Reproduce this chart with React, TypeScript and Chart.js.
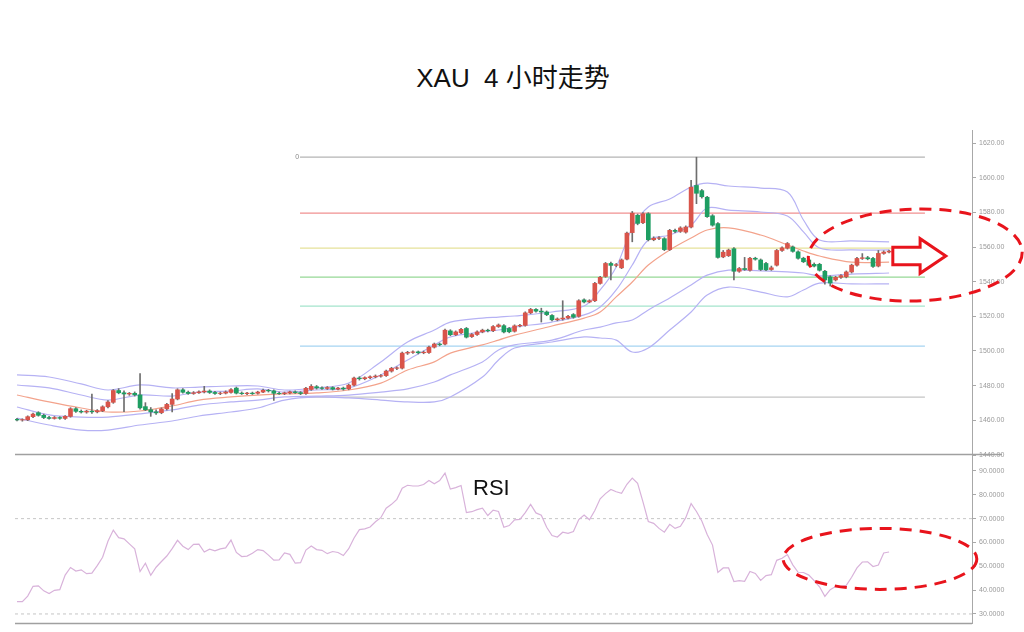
import React, { useEffect, useRef } from 'react';
import { Chart, registerables } from 'chart.js';

Chart.register(...registerables);

// ---------- DATA ----------
const opens = [
  1460.6, 1460.2, 1460.3, 1462.1, 1464.4, 1462.9, 1461.6, 1461.1, 1461.6, 1461.1,
  1462.3, 1466.7, 1465.2, 1464.8, 1465.3, 1464.9, 1465.5, 1467.8, 1470.4, 1477.2,
  1475.9, 1475.2, 1475.6, 1474.7, 1467.9, 1466.1, 1464.9, 1464.4, 1466.6, 1469.2,
  1472.3, 1477.6, 1476.2, 1475.5, 1475.9, 1476.4, 1476.9, 1476.1, 1475.5, 1475.7,
  1476.1, 1478.6, 1475.7, 1475.4, 1475.7, 1475.6, 1476.3, 1477.3, 1477.0, 1475.6,
  1475.4, 1475.8, 1476.4, 1476.0, 1475.5, 1477.8, 1479.4, 1478.7, 1478.4, 1478.9,
  1478.0, 1478.6, 1478.1, 1480.3, 1484.4, 1484.0, 1484.6, 1485.1, 1485.5, 1485.8,
  1488.4, 1490.0, 1490.1, 1498.8, 1499.2, 1499.5, 1499.0, 1499.1, 1502.2, 1504.0,
  1504.0, 1511.6, 1509.4, 1510.5, 1513.0, 1508.3, 1509.5, 1511.0, 1512.0, 1511.7,
  1514.1, 1514.6, 1513.0, 1511.4, 1514.5, 1514.8, 1522.0, 1524.0, 1523.0, 1522.5,
  1520.5, 1518.0, 1518.5, 1519.0, 1521.0, 1520.0, 1529.5, 1528.3, 1529.0, 1539.0,
  1543.0, 1550.5, 1549.4, 1548.0, 1553.0, 1568.3, 1578.3, 1574.0, 1579.2, 1564.2,
  1565.0, 1564.8, 1558.5, 1569.6, 1569.0, 1568.6, 1571.5, 1595.5, 1592.5, 1588.7,
  1578.0, 1573.5, 1554.3, 1555.0, 1559.0, 1546.0, 1547.6, 1546.6, 1553.5, 1552.5,
  1550.5, 1547.0, 1549.5, 1558.0, 1559.3, 1560.0, 1557.2, 1553.5, 1552.5, 1550.0,
  1550.0, 1546.0, 1542.8, 1541.0, 1542.5, 1542.8, 1545.6, 1549.5, 1553.4, 1553.8,
  1553.4, 1549.0, 1556.3, 1557.1,
];
const highs = [
  1461.2, 1460.9, 1462.6, 1464.2, 1465.0, 1463.6, 1462.3, 1462.2, 1462.1, 1462.7,
  1467.3, 1467.4, 1466.0, 1465.8, 1475.2, 1466.2, 1468.4, 1471.4, 1477.8, 1478.3,
  1477.0, 1476.1, 1476.4, 1487.0, 1470.2, 1467.4, 1466.0, 1467.2, 1469.8, 1475.5,
  1478.2, 1478.3, 1476.9, 1476.6, 1477.0, 1479.6, 1477.6, 1476.8, 1476.3, 1477.0,
  1478.3, 1479.2, 1476.4, 1476.2, 1476.3, 1476.8, 1478.0, 1477.9, 1477.6, 1476.3,
  1476.3, 1476.9, 1477.0, 1476.6, 1479.0, 1480.6, 1480.1, 1479.4, 1479.5, 1479.4,
  1479.1, 1479.2, 1480.9, 1485.0, 1485.2, 1485.1, 1485.7, 1486.2, 1486.4, 1489.0,
  1490.6, 1490.9, 1499.4, 1499.8, 1500.1, 1500.0, 1500.0, 1502.8, 1504.6, 1504.6,
  1512.6, 1512.3, 1511.6, 1513.1, 1513.6, 1510.1, 1511.6, 1512.6, 1512.6, 1514.6,
  1515.6, 1515.2, 1513.6, 1515.1, 1515.4, 1522.6, 1524.6, 1524.5, 1524.7, 1523.1,
  1521.0, 1519.1, 1529.0, 1520.6, 1521.6, 1529.6, 1530.1, 1529.6, 1539.6, 1543.1,
  1551.1, 1551.3, 1550.5, 1553.1, 1568.6, 1580.5, 1579.0, 1579.8, 1579.8, 1565.9,
  1566.0, 1565.4, 1570.2, 1570.4, 1571.7, 1572.2, 1598.5, 1611.8, 1593.2, 1589.3,
  1578.7, 1574.1, 1558.0, 1558.8, 1559.6, 1548.2, 1554.0, 1554.0, 1554.1, 1553.1,
  1551.1, 1549.0, 1558.6, 1560.1, 1562.6, 1560.6, 1557.8, 1554.1, 1553.2, 1550.8,
  1550.6, 1546.6, 1543.4, 1543.1, 1544.1, 1546.2, 1550.1, 1554.0, 1556.2, 1554.6,
  1554.0, 1558.0, 1557.8, 1558.2,
];
const lows = [
  1459.6, 1459.5, 1459.8, 1461.6, 1462.4, 1461.0, 1460.6, 1460.7, 1460.6, 1460.5,
  1461.8, 1464.6, 1464.2, 1464.1, 1464.0, 1464.3, 1465.0, 1467.1, 1469.8, 1475.3,
  1465.0, 1474.4, 1474.0, 1466.5, 1465.6, 1462.3, 1463.4, 1463.8, 1465.9, 1464.8,
  1471.8, 1475.6, 1475.0, 1475.0, 1475.5, 1475.8, 1475.5, 1474.9, 1474.8, 1475.2,
  1475.7, 1475.2, 1474.9, 1474.8, 1474.9, 1475.1, 1475.9, 1476.3, 1471.5, 1474.9,
  1474.8, 1475.3, 1475.5, 1474.8, 1475.0, 1477.3, 1478.0, 1477.9, 1477.8, 1477.5,
  1477.6, 1477.4, 1477.6, 1479.8, 1483.2, 1483.4, 1484.0, 1484.5, 1484.9, 1485.3,
  1487.8, 1489.2, 1489.6, 1498.0, 1498.6, 1498.3, 1498.4, 1498.6, 1501.7, 1503.0,
  1503.5, 1508.8, 1508.9, 1510.0, 1507.5, 1507.8, 1509.0, 1510.5, 1511.0, 1511.2,
  1513.6, 1510.4, 1510.5, 1510.9, 1513.9, 1514.3, 1521.5, 1522.4, 1516.7, 1520.4,
  1517.4, 1517.4, 1517.8, 1518.5, 1518.9, 1519.5, 1527.7, 1527.8, 1528.5, 1538.5,
  1542.5, 1541.0, 1548.6, 1547.5, 1552.5, 1563.0, 1572.8, 1573.4, 1563.5, 1563.6,
  1564.3, 1557.9, 1558.0, 1568.2, 1568.4, 1568.0, 1571.0, 1585.0, 1588.2, 1577.0,
  1572.0, 1553.5, 1553.8, 1554.5, 1541.0, 1545.4, 1546.5, 1546.1, 1552.4, 1546.4,
  1546.3, 1546.5, 1549.0, 1557.5, 1558.8, 1557.0, 1553.0, 1551.0, 1549.0, 1548.5,
  1546.1, 1538.5, 1537.5, 1540.4, 1541.9, 1542.2, 1545.0, 1549.0, 1552.8, 1552.6,
  1548.2, 1548.5, 1555.8, 1556.6,
];
const closes = [
  1460.2, 1460.4, 1462.1, 1463.6, 1462.9, 1461.6, 1461.1, 1461.6, 1461.2, 1462.3,
  1466.7, 1465.2, 1464.8, 1465.3, 1464.9, 1465.6, 1467.8, 1470.6, 1477.2, 1475.9,
  1475.2, 1475.6, 1474.7, 1467.2, 1466.1, 1464.9, 1464.3, 1466.6, 1469.2, 1472.3,
  1477.6, 1476.2, 1475.5, 1475.9, 1476.4, 1476.9, 1476.1, 1475.5, 1475.7, 1476.3,
  1477.7, 1475.7, 1475.4, 1475.7, 1475.4, 1476.3, 1477.3, 1477.0, 1475.6, 1475.4,
  1475.8, 1476.4, 1476.0, 1475.5, 1478.5, 1479.6, 1478.7, 1478.4, 1478.9, 1478.0,
  1478.6, 1478.1, 1480.3, 1484.4, 1484.0, 1484.6, 1485.1, 1485.5, 1485.8, 1488.4,
  1490.0, 1490.3, 1498.8, 1499.2, 1499.5, 1499.0, 1499.3, 1502.2, 1504.0, 1503.7,
  1512.0, 1509.4, 1511.0, 1512.5, 1508.0, 1509.5, 1511.0, 1512.0, 1511.7, 1514.1,
  1515.0, 1511.0, 1511.1, 1514.5, 1514.8, 1522.0, 1524.0, 1523.0, 1522.5, 1521.0,
  1518.0, 1518.5, 1519.0, 1520.0, 1519.5, 1529.0, 1528.3, 1529.0, 1539.0, 1542.5,
  1550.5, 1549.4, 1549.8, 1552.5, 1568.0, 1579.5, 1573.6, 1579.2, 1564.2, 1565.0,
  1565.3, 1558.5, 1569.6, 1569.0, 1571.0, 1571.5, 1594.5, 1591.0, 1589.0, 1577.5,
  1572.6, 1554.0, 1557.0, 1558.2, 1546.0, 1547.6, 1547.0, 1553.5, 1553.0, 1547.0,
  1546.8, 1548.0, 1558.0, 1559.5, 1562.0, 1557.5, 1553.5, 1551.5, 1549.5, 1549.0,
  1546.6, 1541.0, 1539.2, 1542.5, 1543.5, 1545.6, 1549.5, 1553.4, 1553.8, 1553.2,
  1548.8, 1556.3, 1557.1, 1557.6,
];

const rsiValues = [
  35.2, 35.2, 37.5, 41.6, 41.8, 39.7, 38.6, 39.9, 40.2, 46.3,
  49.5, 48.0, 48.5, 46.9, 47.1, 50.3, 53.8, 60.5, 65.2, 62.0,
  61.5, 59.4, 57.3, 47.8, 51.3, 46.2, 49.6, 52.0, 54.3, 57.4,
  60.9, 58.4, 57.0, 59.2, 59.3, 56.0, 57.2, 56.5, 57.3, 57.7,
  61.0, 55.8, 54.1, 54.3, 55.5, 57.0, 56.6, 54.7, 52.6, 52.7,
  55.6, 55.0, 51.3, 51.5, 56.8, 58.5, 57.0, 56.7, 55.3, 56.2,
  55.8, 54.5, 57.4, 61.9, 65.4, 65.7, 66.5, 68.7, 70.4, 74.4,
  76.0, 78.1, 82.8, 84.0, 83.7, 83.7, 84.3, 86.0, 84.6, 86.0,
  89.1, 82.4, 83.0, 83.9, 72.5, 72.9, 73.8, 74.4, 71.3, 73.6,
  73.0, 66.4, 67.1, 69.5, 69.7, 72.5, 76.0, 72.4, 71.4, 66.4,
  62.9, 62.3, 64.3, 63.8, 64.6, 69.6, 71.5, 69.5, 73.4, 78.3,
  80.5, 82.2, 81.3, 80.6, 84.4, 87.0, 84.8, 77.0, 68.8, 68.0,
  65.9, 64.3, 67.6, 65.9, 66.8, 70.4, 76.3, 73.0, 69.0, 63.3,
  58.9, 47.4, 49.3, 49.3, 43.6, 44.0, 43.7, 47.8, 47.0, 44.1,
  46.1, 46.5, 52.5, 53.4, 54.9, 50.6, 47.5, 47.4, 46.3, 44.0,
  41.4, 37.4, 40.2, 41.5, 41.5, 42.0, 45.4, 49.3, 51.8, 51.9,
  49.9, 50.5, 55.6, 56.0,
];

// Bollinger band lines read at these candle positions
const bandIndex = [0, 6, 12, 17, 23, 29, 34, 40, 45, 50, 56, 62, 68, 73, 78, 81, 87, 90, 93, 100, 106, 109, 112, 115, 118, 122, 126, 129, 133, 139, 144, 147, 150, 156, 163];
const bandUpperOuter = [1486.2, 1485.0, 1481.0, 1477.5, 1480.4, 1478.7, 1479.2, 1479.8, 1479.8, 1477.5, 1478.7, 1481.5, 1493.7, 1505.2, 1512.1, 1516.7, 1519.0, 1519.6, 1520.2, 1522.5, 1526.0, 1535.2, 1548.5, 1571.0, 1583.1, 1587.7, 1594.6, 1596.9, 1595.2, 1594.0, 1591.7, 1575.6, 1564.0, 1563.5, 1562.9];
const bandUpperInner = [1480.4, 1478.7, 1474.6, 1471.7, 1474.6, 1474.0, 1476.3, 1476.9, 1478.1, 1476.3, 1477.5, 1478.7, 1486.2, 1494.8, 1503.5, 1508.1, 1511.0, 1512.1, 1513.8, 1516.7, 1520.8, 1525.4, 1535.2, 1549.6, 1564.0, 1566.9, 1572.7, 1582.5, 1581.3, 1580.2, 1577.9, 1568.7, 1559.4, 1558.3, 1558.3];
const bandMiddle = [1474.6, 1470.6, 1467.1, 1464.8, 1465.4, 1468.3, 1471.7, 1473.5, 1474.6, 1475.2, 1475.8, 1477.5, 1481.5, 1489.0, 1493.7, 1498.8, 1503.5, 1506.3, 1509.2, 1514.4, 1519.0, 1522.5, 1531.2, 1539.8, 1549.6, 1558.3, 1565.2, 1569.8, 1571.0, 1566.9, 1561.2, 1557.7, 1554.8, 1551.3, 1551.3];
const bandLowerInner = [1467.7, 1463.1, 1461.9, 1461.9, 1463.7, 1466.0, 1468.8, 1470.6, 1471.7, 1473.5, 1474.0, 1474.6, 1476.3, 1478.1, 1482.1, 1486.2, 1493.7, 1500.6, 1503.5, 1506.3, 1512.1, 1513.8, 1516.2, 1517.9, 1523.7, 1530.6, 1538.1, 1543.8, 1546.7, 1546.2, 1545.6, 1545.0, 1543.3, 1544.4, 1545.0];
const bandLowerOuter = [1461.3, 1457.3, 1454.4, 1454.4, 1457.3, 1459.6, 1462.5, 1464.8, 1467.1, 1471.7, 1473.5, 1472.9, 1471.7, 1470.6, 1470.6, 1473.5, 1485.0, 1494.8, 1501.7, 1505.2, 1508.1, 1507.5, 1506.3, 1499.4, 1501.7, 1512.1, 1522.5, 1532.3, 1536.9, 1534.0, 1531.2, 1535.2, 1539.2, 1538.7, 1538.7];

// Fibonacci retracement levels
const fibLevels = [1611.8, 1579.5, 1559.3, 1542.6, 1525.9, 1502.8, 1473.4];
const fibLabels = ['0', '', '', '', '', '', ''];
const fibColors = ['#b4b4b4', '#f09090', '#e6e29a', '#96d896', '#a4e4cc', '#a6d4f2', '#c4c4c4'];
const fibRange = [52.9, 169.7];

const priceTicks = [1440, 1460, 1480, 1500, 1520, 1540, 1560, 1580, 1600, 1620];
const rsiTicks = [30, 40, 50, 60, 70, 80, 90];
const rsiGuides = [70, 30];

// annotation (data units)
const topEllipse = { x: 167.9, y: 1555.4, rx: 20, ry: 26.5 };
const arrowShape = { tail: 163.7, neck: 168.8, tip: 173.6, y: 1554.8, shaft: 5.0, head: 10.0 };
const rsiEllipse = { x: 161.3, y: 53.1, rx: 18.1, ry: 12.8 };

const X_MIN = -0.374;
const X_MAX = 178.5;

const UP = '#d9544a';
const DOWN = '#1e9e62';
const WICK = '#6e6e6e';
const BAND = '#b6b2f4';
const MID = '#f3a38c';
const RSI_COLOR = '#d8b2da';
const TICK_FONT = { size: 7, family: "'Liberation Sans', Arial, sans-serif" };

function rightAxis(min: number, max: number, ticks: number[], digits: number) {
  return {
    type: 'linear' as const,
    position: 'right' as const,
    min,
    max,
    afterBuildTicks: (s: any) => {
      s.ticks = ticks.map((v) => ({ value: v }));
    },
    afterFit: (s: any) => {
      s.width = 52;
      s.paddingTop = 0;
      s.paddingBottom = 0;
    },
    ticks: {
      color: '#9a9a9a',
      font: TICK_FONT,
      padding: 3,
      callback: (v: any) => Number(v).toFixed(digits),
    },
    grid: { drawOnChartArea: false, drawTicks: true, tickLength: 4, color: '#a8a8a8' },
    border: { display: true, color: '#a8a8a8', width: 1 },
  };
}

const topPlugin = {
  id: 'topDecor',
  beforeDatasetsDraw(chart: any) {
    const { ctx, scales } = chart;
    ctx.save();
    ctx.fillStyle = '#888';
    ctx.font = "7px 'Liberation Sans', Arial, sans-serif";
    ctx.textAlign = 'right';
    ctx.textBaseline = 'middle';
    fibLevels.forEach((lv, i) => {
      if (fibLabels[i]) ctx.fillText(fibLabels[i], scales.x.getPixelForValue(fibRange[0]) - 1, scales.y.getPixelForValue(lv));
    });
    ctx.restore();
  },
  afterDraw(chart: any) {
    const { ctx, chartArea, scales } = chart;
    const xs = scales.x;
    const ys = scales.y;
    ctx.save();
    // separator line
    ctx.strokeStyle = '#a0a0a0';
    ctx.lineWidth = 1.5;
    ctx.beginPath();
    ctx.moveTo(chartArea.left, chartArea.bottom - 0.5);
    ctx.lineTo(chartArea.right + 30, chartArea.bottom - 0.5);
    ctx.stroke();

    // dashed ellipse
    const cx = xs.getPixelForValue(topEllipse.x);
    const cy = ys.getPixelForValue(topEllipse.y);
    const rx = xs.getPixelForValue(topEllipse.x + topEllipse.rx) - cx;
    const ry = cy - ys.getPixelForValue(topEllipse.y + topEllipse.ry);
    ctx.strokeStyle = '#e8141c';
    ctx.lineWidth = 3;
    ctx.setLineDash([12, 8]);
    ctx.beginPath();
    ctx.ellipse(cx, cy, rx, ry, -0.03, 0, Math.PI * 2);
    ctx.stroke();

    // arrow
    ctx.setLineDash([]);
    const t = xs.getPixelForValue(arrowShape.tail);
    const n = xs.getPixelForValue(arrowShape.neck);
    const p = xs.getPixelForValue(arrowShape.tip);
    const ay = ys.getPixelForValue(arrowShape.y);
    const sh = ay - ys.getPixelForValue(arrowShape.y + arrowShape.shaft);
    const hh = ay - ys.getPixelForValue(arrowShape.y + arrowShape.head);
    ctx.beginPath();
    ctx.moveTo(t, ay - sh);
    ctx.lineTo(n, ay - sh);
    ctx.lineTo(n, ay - hh);
    ctx.lineTo(p, ay);
    ctx.lineTo(n, ay + hh);
    ctx.lineTo(n, ay + sh);
    ctx.lineTo(t, ay + sh);
    ctx.closePath();
    ctx.fillStyle = '#ffffff';
    ctx.fill();
    ctx.lineWidth = 3;
    ctx.lineJoin = 'miter';
    ctx.stroke();
    ctx.restore();
  },
};

const rsiPlugin = {
  id: 'rsiDecor',
  afterDraw(chart: any) {
    const { ctx, chartArea, scales } = chart;
    const xs = scales.x;
    const ys = scales.y;
    ctx.save();
    ctx.strokeStyle = '#a0a0a0';
    ctx.lineWidth = 1.5;
    ctx.beginPath();
    ctx.moveTo(chartArea.left, chartArea.bottom + 0.5);
    ctx.lineTo(chartArea.right, chartArea.bottom + 0.5);
    ctx.stroke();

    const cx = xs.getPixelForValue(rsiEllipse.x);
    const cy = ys.getPixelForValue(rsiEllipse.y);
    const rx = xs.getPixelForValue(rsiEllipse.x + rsiEllipse.rx) - cx;
    const ry = cy - ys.getPixelForValue(rsiEllipse.y + rsiEllipse.ry);
    ctx.strokeStyle = '#e8141c';
    ctx.lineWidth = 3;
    ctx.setLineDash([12, 8]);
    ctx.beginPath();
    ctx.ellipse(cx, cy, rx, ry, 0, 0, Math.PI * 2);
    ctx.stroke();
    ctx.restore();
  },
};

function bandDataset(values: number[], color: string) {
  return {
    type: 'line' as const,
    data: bandIndex.map((x, i) => ({ x, y: values[i] })),
    borderColor: color,
    borderWidth: 1.2,
    pointRadius: 0,
    tension: 0.35,
    fill: false,
    order: 3,
  };
}

export default function App() {
  const topRef = useRef<HTMLCanvasElement | null>(null);
  const rsiRef = useRef<HTMLCanvasElement | null>(null);

  useEffect(() => {
    if (!topRef.current || !rsiRef.current) return;

    const fibSets = fibLevels.map((lv, i) => ({
      type: 'line' as const,
      data: [
        { x: fibRange[0], y: lv },
        { x: fibRange[1], y: lv },
      ],
      borderColor: fibColors[i],
      borderWidth: 1.2,
      pointRadius: 0,
      fill: false,
      order: 4,
    }));

    const top = new Chart(topRef.current, {
      type: 'bar',
      data: {
        datasets: [
          ...fibSets,
          bandDataset(bandUpperOuter, BAND),
          bandDataset(bandUpperInner, BAND),
          bandDataset(bandMiddle, MID),
          bandDataset(bandLowerInner, BAND),
          bandDataset(bandLowerOuter, BAND),
          {
            type: 'bar' as const,
            data: highs.map((h, i) => ({ x: i, y: [lows[i], h] })),
            backgroundColor: WICK,
            barThickness: 1,
            grouped: false,
            order: 2,
          },
          {
            type: 'bar' as const,
            data: opens.map((o, i) => ({ x: i, y: [o, closes[i]] })),
            backgroundColor: opens.map((o, i) => (closes[i] >= o ? UP : DOWN)),
            barThickness: 4,
            grouped: false,
            order: 1,
          },
        ] as any,
      },
      options: {
        animation: false,
        responsive: false,
        maintainAspectRatio: false,
        layout: { padding: { left: 15, top: 10, right: 0, bottom: 3 } },
        plugins: { legend: { display: false }, tooltip: { enabled: false }, title: { display: false } },
        scales: {
          x: { type: 'linear', min: X_MIN, max: X_MAX, offset: false, display: false },
          y: rightAxis(1440, 1627.5, priceTicks, 2) as any,
        },
      },
      plugins: [topPlugin],
    });

    const rsi = new Chart(rsiRef.current, {
      type: 'line',
      data: {
        datasets: [
          ...rsiGuides.map((g) => ({
            data: [
              { x: X_MIN, y: g },
              { x: X_MAX, y: g },
            ],
            borderColor: '#c6c6c6',
            borderWidth: 1,
            borderDash: [3, 3],
            pointRadius: 0,
            order: 2,
          })),
          {
            data: rsiValues.map((v, i) => ({ x: i, y: v })),
            borderColor: RSI_COLOR,
            borderWidth: 1.2,
            pointRadius: 0,
            tension: 0,
            order: 1,
          },
        ],
      },
      options: {
        animation: false,
        responsive: false,
        maintainAspectRatio: false,
        layout: { padding: { left: 15, top: 0, right: 0, bottom: 9 } },
        plugins: { legend: { display: false }, tooltip: { enabled: false } },
        scales: {
          x: { type: 'linear', min: X_MIN, max: X_MAX, offset: false, display: false },
          y: rightAxis(26.2, 96.7, rsiTicks, 4) as any,
        },
      },
      plugins: [rsiPlugin],
    });

    return () => {
      top.destroy();
      rsi.destroy();
    };
  }, []);

  return (
    <div style={{ position: 'absolute', left: 0, top: 0, width: 1024, height: 632, background: '#ffffff', overflow: 'hidden' }}>
      <div
        style={{
          position: 'absolute',
          left: 0,
          top: 63,
          width: 1026,
          textAlign: 'center',
          fontFamily: "'Liberation Sans', 'Noto Sans CJK SC', Arial, sans-serif",
          fontSize: 26,
          lineHeight: '30px',
          color: '#111',
          whiteSpace: 'pre',
        }}
      >
        {'XAU  4 小时走势'}
      </div>
      <canvas ref={topRef} width={1024} height={338} style={{ position: 'absolute', left: 0, top: 120, width: 1024, height: 338 }} />
      <canvas ref={rsiRef} width={1024} height={177} style={{ position: 'absolute', left: 0, top: 455, width: 1024, height: 177 }} />
      <div
        style={{
          position: 'absolute',
          left: 473,
          top: 476,
          fontFamily: "'Liberation Sans', Arial, sans-serif",
          fontSize: 22,
          lineHeight: '24px',
          color: '#111',
        }}
      >
        RSI
      </div>
    </div>
  );
}
